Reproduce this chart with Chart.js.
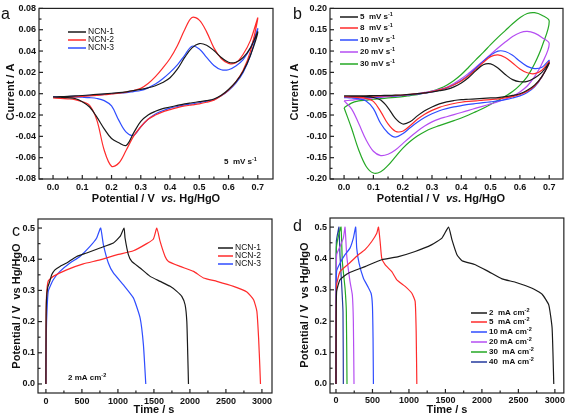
<!DOCTYPE html>
<html>
<head>
<meta charset="utf-8">
<script src="https://cdn.jsdelivr.net/npm/chart.js@4.4.1/dist/chart.umd.min.js"></script>
<style>
  body { margin: 0; background: #fff; width: 567px; height: 418px; position: relative; overflow: hidden; }
  canvas { position: absolute; }
</style>
</head>
<body>
<canvas id="cv-a" width="283" height="209" style="left:0;top:0"></canvas>
<canvas id="cv-b" width="284" height="209" style="left:283px;top:0"></canvas>
<canvas id="gcd-c" width="283" height="209" style="left:0;top:209px"></canvas>
<canvas id="gcd-d" width="284" height="209" style="left:283px;top:209px"></canvas>
<script>
// ---- data: cyclic voltammograms (potential grid shared by all CV curves) ----
const cvPotential = [0, 0.025, 0.05, 0.075, 0.1, 0.125, 0.15, 0.175, 0.2, 0.225, 0.25, 0.275, 0.3, 0.325, 0.35,
  0.375, 0.4, 0.425, 0.45, 0.475, 0.5, 0.525, 0.55, 0.575, 0.6, 0.625, 0.65, 0.675, 0.7];

// panel a, 5 mV/s; anodic = forward sweep, cathodic = return sweep (listed on the same grid)
const ncn1Anodic = [-0.003, -0.0028, -0.0025, -0.0021, -0.0017, -0.0012, -0.0007, -0.0002, 0.0004, 0.001, 0.0018, 0.0028, 0.004, 0.0055, 0.0075,
  0.0105, 0.015, 0.023, 0.034, 0.043, 0.047, 0.0455, 0.0405, 0.034, 0.0295, 0.0295, 0.034, 0.043, 0.058];
const ncn1Cathodic = [-0.003, -0.0033, -0.0037, -0.0045, -0.0075, -0.0125, -0.022, -0.033, -0.042, -0.046, -0.0485, -0.037, -0.026, -0.02, -0.0165,
  -0.014, -0.0125, -0.011, -0.0095, -0.0085, -0.0075, -0.0065, -0.005, -0.0015, 0.004, 0.011, 0.021, 0.036, 0.058];
const ncn2Anodic = [-0.004, -0.0038, -0.0035, -0.003, -0.0025, -0.002, -0.0015, -0.001, -0.0002, 0.0005, 0.0015, 0.003, 0.005, 0.0095, 0.016,
  0.024, 0.033, 0.045, 0.06, 0.0715, 0.069, 0.058, 0.043, 0.033, 0.0285, 0.029, 0.037, 0.05, 0.071];
const ncn2Cathodic = [-0.004, -0.0043, -0.0048, -0.0055, -0.0075, -0.011, -0.025, -0.053, -0.068, -0.065, -0.053, -0.04, -0.031, -0.024, -0.02,
  -0.017, -0.015, -0.013, -0.0115, -0.0105, -0.0095, -0.008, -0.006, -0.002, 0.0035, 0.011, 0.022, 0.04, 0.071];
const ncn3Anodic = [-0.003, -0.0029, -0.0027, -0.0024, -0.002, -0.0016, -0.0012, -0.0006, 0.0, 0.0005, 0.001, 0.002, 0.003, 0.0055, 0.009,
  0.014, 0.02, 0.027, 0.036, 0.0445, 0.042, 0.034, 0.0265, 0.0225, 0.0225, 0.026, 0.032, 0.043, 0.061];
const ncn3Cathodic = [-0.003, -0.003, -0.003, -0.003, -0.0033, -0.0037, -0.0045, -0.0065, -0.0115, -0.025, -0.036, -0.039, -0.031, -0.024, -0.019,
  -0.016, -0.0135, -0.012, -0.0105, -0.0095, -0.0085, -0.007, -0.0055, -0.002, 0.003, 0.01, 0.02, 0.036, 0.061];

// panel b, different scan rates
const mv5Anodic = [-0.005, -0.005, -0.005, -0.0048, -0.0045, -0.0042, -0.004, -0.0035, -0.003, -0.0018, 0.0, 0.002, 0.004, 0.007, 0.01,
  0.016, 0.025, 0.038, 0.054, 0.068, 0.07, 0.06, 0.045, 0.033, 0.028, 0.029, 0.037, 0.05, 0.072];
const mv5Cathodic = [-0.005, -0.0055, -0.006, -0.007, -0.009, -0.015, -0.033, -0.058, -0.071, -0.066, -0.052, -0.04, -0.031, -0.024, -0.019,
  -0.016, -0.014, -0.013, -0.012, -0.011, -0.01, -0.009, -0.007, -0.004, 0.0, 0.008, 0.02, 0.04, 0.072];
const mv8Anodic = [-0.007, -0.007, -0.007, -0.0065, -0.006, -0.0055, -0.005, -0.004, -0.003, -0.0015, 0.0, 0.002, 0.005, 0.009, 0.014,
  0.021, 0.03, 0.042, 0.057, 0.073, 0.087, 0.091, 0.085, 0.072, 0.058, 0.049, 0.047, 0.055, 0.075];
const mv8Cathodic = [-0.007, -0.008, -0.009, -0.011, -0.018, -0.042, -0.071, -0.088, -0.088, -0.075, -0.06, -0.048, -0.039, -0.032, -0.027,
  -0.023, -0.02, -0.018, -0.017, -0.015, -0.014, -0.012, -0.01, -0.007, -0.002, 0.006, 0.018, 0.04, 0.075];
const mv10Anodic = [-0.009, -0.009, -0.009, -0.0085, -0.008, -0.007, -0.006, -0.005, -0.004, -0.0025, -0.001, 0.001, 0.004, 0.008, 0.013,
  0.021, 0.031, 0.044, 0.06, 0.076, 0.09, 0.1, 0.099, 0.09, 0.076, 0.064, 0.059, 0.062, 0.078];
const mv10Cathodic = [-0.009, -0.01, -0.012, -0.017, -0.035, -0.07, -0.092, -0.102, -0.094, -0.08, -0.067, -0.056, -0.047, -0.04, -0.035,
  -0.031, -0.028, -0.025, -0.023, -0.021, -0.019, -0.017, -0.014, -0.01, -0.005, 0.003, 0.016, 0.04, 0.078];
const mv20Anodic = [-0.017, -0.015, -0.013, -0.0115, -0.01, -0.0085, -0.007, -0.0055, -0.004, -0.002, 0.0, 0.003, 0.006, 0.01, 0.015,
  0.024, 0.035, 0.048, 0.062, 0.077, 0.092, 0.107, 0.121, 0.134, 0.143, 0.146, 0.142, 0.132, 0.117];
const mv20Cathodic = [-0.017, -0.035, -0.07, -0.108, -0.135, -0.145, -0.142, -0.132, -0.117, -0.102, -0.088, -0.076, -0.066, -0.059, -0.054,
  -0.049, -0.044, -0.039, -0.034, -0.029, -0.024, -0.019, -0.013, -0.006, 0.004, 0.018, 0.04, 0.07, 0.117];
const mv30Anodic = [-0.033, -0.022, -0.017, -0.015, -0.013, -0.0115, -0.01, -0.0085, -0.007, -0.0045, -0.002, 0.002, 0.006, 0.012, 0.02,
  0.031, 0.045, 0.062, 0.08, 0.097, 0.115, 0.132, 0.148, 0.164, 0.178, 0.188, 0.19, 0.184, 0.17];
const mv30Cathodic = [-0.033, -0.08, -0.132, -0.17, -0.186, -0.183, -0.168, -0.148, -0.128, -0.112, -0.099, -0.089, -0.081, -0.075, -0.069,
  -0.063, -0.057, -0.05, -0.042, -0.034, -0.025, -0.016, -0.006, 0.005, 0.02, 0.04, 0.07, 0.11, 0.17];

// ---- data: galvanostatic charge/discharge ----
const ncn1Time = [0, 2, 8, 25, 55, 80, 125, 195, 288, 427, 566, 751, 937, 1030, 1085, 1099, 1145, 1192, 1308, 1447, 1586, 1725, 1818, 1887, 1933, 1957, 1970, 1980];
const ncn1Volt = [0, 0.2, 0.27, 0.31, 0.33, 0.35, 0.366, 0.377, 0.388, 0.409, 0.42, 0.436, 0.452, 0.473, 0.5, 0.468, 0.415, 0.393, 0.372, 0.345, 0.329, 0.313, 0.297, 0.281, 0.254, 0.2, 0.094, 0];
const ncn2Time = [0, 3, 9, 32, 102, 288, 519, 751, 983, 1215, 1400, 1493, 1540, 1586, 1655, 1702, 1864, 2050, 2189, 2374, 2606, 2791, 2884, 2930, 2954, 2972, 2980];
const ncn2Volt = [0, 0.22, 0.286, 0.33, 0.345, 0.366, 0.385, 0.398, 0.414, 0.427, 0.45, 0.465, 0.5, 0.457, 0.409, 0.393, 0.377, 0.361, 0.34, 0.329, 0.313, 0.295, 0.27, 0.233, 0.147, 0.05, 0];
const ncn3Time = [0, 3, 9, 32, 102, 195, 334, 473, 612, 705, 760, 798, 867, 937, 1076, 1215, 1308, 1354, 1387];
const ncn3Volt = [0, 0.12, 0.2, 0.297, 0.334, 0.361, 0.388, 0.409, 0.441, 0.468, 0.5, 0.447, 0.388, 0.356, 0.318, 0.276, 0.212, 0.126, 0];

const ma2Time = [0, 2, 9, 55, 169, 398, 627, 856, 1085, 1314, 1452, 1543, 1589, 1658, 1727, 1910, 2093, 2276, 2459, 2688, 2825, 2916, 2962, 2985];
const ma2Volt = [0, 0.2, 0.295, 0.332, 0.353, 0.374, 0.396, 0.406, 0.422, 0.444, 0.465, 0.5, 0.46, 0.412, 0.393, 0.38, 0.358, 0.335, 0.324, 0.305, 0.286, 0.252, 0.178, 0];
const ma5Time = [0, 2, 9, 55, 169, 307, 398, 490, 559, 582, 605, 627, 673, 765, 834, 948, 1040, 1085, 1099, 1108];
const ma5Volt = [0, 0.22, 0.316, 0.358, 0.382, 0.412, 0.428, 0.454, 0.48, 0.5, 0.454, 0.401, 0.38, 0.358, 0.332, 0.311, 0.289, 0.263, 0.167, 0];
const ma10Time = [0, 2, 9, 55, 124, 192, 238, 270, 284, 316, 376, 435, 481, 499, 508, 513];
const ma10Volt = [0, 0.25, 0.36, 0.385, 0.412, 0.433, 0.465, 0.5, 0.433, 0.385, 0.337, 0.311, 0.289, 0.252, 0.146, 0];
const ma20Time = [0, 2, 9, 55, 101, 124, 147, 192, 224, 238, 247];
const ma20Volt = [0, 0.3, 0.412, 0.438, 0.465, 0.5, 0.41, 0.327, 0.284, 0.2, 0];
const ma30Time = [0, 2, 5, 32, 69, 87, 124, 142, 151];
const ma30Volt = [0, 0.3, 0.433, 0.47, 0.5, 0.39, 0.305, 0.23, 0];
const ma40Time = [0, 2, 5, 23, 41, 55, 78, 96, 101];
const ma40Volt = [0, 0.3, 0.454, 0.48, 0.5, 0.41, 0.316, 0.23, 0];

// ---- tick labels ----
const cvPotTicks = [0, 0.1, 0.2, 0.3, 0.4, 0.5, 0.6, 0.7];
const cvCurTicksA = [-0.08, -0.06, -0.04, -0.02, 0, 0.02, 0.04, 0.06, 0.08];
const cvCurTicksB = [-0.2, -0.15, -0.1, -0.05, 0, 0.05, 0.1, 0.15, 0.2];
const timeTicks = [0, 500, 1000, 1500, 2000, 2500, 3000];
const voltTicks = [0, 0.1, 0.2, 0.3, 0.4, 0.5];

const C = { black: '#1a1a1a', red: '#ff2b2b', blue: '#2f4dff', purple: '#b54ef2', green: '#25a825', navy: '#243a9e' };
const FAM = '"Liberation Sans", Arial, sans-serif';
const bold = n => `bold ${n}px ${FAM}`;
const plain = n => `${n}px ${FAM}`;

// forward sweep then return sweep as one loop
function loop(pot, up, down) {
  const pts = pot.map((v, i) => ({ x: v, y: up[i] }));
  for (let i = pot.length - 2; i >= 0; i--) pts.push({ x: pot[i], y: down[i] });
  return pts;
}
const pairs = (xs, ys) => xs.map((v, i) => ({ x: v, y: ys[i] }));

function rich(ctx, parts, x, y, rot, align) {
  let w = 0;
  parts.forEach(p => { ctx.font = p[1]; w += ctx.measureText(p[0]).width; });
  ctx.save();
  ctx.translate(x, y);
  if (rot) ctx.rotate(rot);
  ctx.textBaseline = 'middle';
  ctx.textAlign = 'left';
  let cx = align === 'left' ? 0 : -w / 2;
  parts.forEach(p => {
    ctx.font = p[1];
    ctx.fillText(p[0], cx, p[2] || 0);
    cx += ctx.measureText(p[0]).width;
  });
  ctx.restore();
}

// frame, inward ticks, titles and legend
const decor = {
  id: 'decor',
  afterDraw(chart, args, o) {
    const { ctx, chartArea: a, scales } = chart;
    ctx.save();
    ctx.strokeStyle = '#222';
    ctx.lineWidth = 1.2;
    ctx.strokeRect(a.left, a.top, a.right - a.left, a.bottom - a.top);
    ['x', 'y'].forEach(id => {
      const s = scales[id];
      const vals = s.ticks.map(t => t.value);
      const minors = vals.slice(1).map((v, i) => (v + vals[i]) / 2);
      const mark = (v, len) => {
        const p = s.getPixelForValue(v);
        ctx.beginPath();
        if (id === 'x') { ctx.moveTo(p, a.bottom); ctx.lineTo(p, a.bottom - len); }
        else { ctx.moveTo(a.left, p); ctx.lineTo(a.left + len, p); }
        ctx.stroke();
      };
      vals.forEach(v => mark(v, 4));
      minors.forEach(v => mark(v, 2.5));
    });
    ctx.fillStyle = '#111';
    (o.texts || []).forEach(t => rich(ctx, t.parts, t.x, t.y, t.rot, t.align));
    const lg = o.legend;
    if (lg) {
      lg.items.forEach((it, i) => {
        const y = lg.rows[i];
        ctx.strokeStyle = it.color;
        ctx.lineWidth = 1.5;
        ctx.beginPath(); ctx.moveTo(lg.x1, y); ctx.lineTo(lg.x2, y); ctx.stroke();
        ctx.fillStyle = '#111';
        rich(ctx, it.parts, lg.x2 + 2, y, 0, 'left');
      });
    }
    ctx.restore();
  }
};

function axis(s, id) {
  return {
    type: 'linear', min: s.min, max: s.max,
    grid: { display: false, drawTicks: false },
    border: { display: false },
    afterBuildTicks: sc => { sc.ticks = s.ticks.map(v => ({ value: v })); },
    afterFit: sc => { if (id === 'x') sc.height = s.size; else sc.width = s.size; },
    ticks: {
      autoSkip: false, maxRotation: 0, padding: s.pad, color: '#111',
      font: { family: FAM, size: 9, weight: 'bold' },
      callback: v => s.fmt(v)
    }
  };
}

function makeChart(id, c) {
  new Chart(document.getElementById(id), {
    type: 'line',
    data: { datasets: c.datasets },
    options: {
      responsive: false,
      animation: false,
      layout: { padding: c.padding },
      elements: { point: { radius: 0 }, line: { borderWidth: 1.2 } },
      plugins: { legend: { display: false }, tooltip: { enabled: false }, decor: c.decor },
      scales: { x: axis(c.x, 'x'), y: axis(c.y, 'y') }
    },
    plugins: [decor]
  });
}

const cvLine = (data, color) => ({ data, borderColor: color, tension: 0.35, fill: false });
const gcdLine = (data, color) => ({ data, borderColor: color, tension: 0.15, fill: false });
const potTitle = [['Potential / V  ', bold(11)], ['vs.', 'italic ' + bold(11)], [' Hg/HgO', bold(11)]];
const unit = (txt, exp) => [[txt, bold(8)], [exp, bold(5.5), -3]];

makeChart('cv-a', {
  padding: { top: 5, right: 10, left: 0, bottom: 0 },
  x: { min: -0.048, max: 0.752, ticks: cvPotTicks, fmt: v => v.toFixed(1), size: 30, pad: 3 },
  y: { min: -0.08, max: 0.08, ticks: cvCurTicksA, fmt: v => v.toFixed(2), size: 39, pad: 3 },
  datasets: [
    cvLine(loop(cvPotential, ncn1Anodic, ncn1Cathodic), C.black),
    cvLine(loop(cvPotential, ncn2Anodic, ncn2Cathodic), C.red),
    cvLine(loop(cvPotential, ncn3Anodic, ncn3Cathodic), C.blue)
  ],
  decor: {
    texts: [
      { parts: [['a', plain(16)]], x: 1, y: 15, align: 'left' },
      { parts: [['Current / A', bold(11)]], x: 11, y: 92, rot: -Math.PI / 2 },
      { parts: potTitle, x: 156, y: 199 },
      { parts: unit('5  mV s', '-1'), x: 224, y: 162, align: 'left' }
    ],
    legend: { x1: 68, x2: 86, rows: [32, 40, 48], items: [
      { color: C.black, parts: [['NCN-1', plain(8.5)]] },
      { color: C.red, parts: [['NCN-2', plain(8.5)]] },
      { color: C.blue, parts: [['NCN-3', plain(8.5)]] }
    ] }
  }
});

makeChart('cv-b', {
  padding: { top: 5, right: 4, left: 0, bottom: 0 },
  x: { min: -0.048, max: 0.747, ticks: cvPotTicks, fmt: v => v.toFixed(1), size: 30, pad: 3 },
  y: { min: -0.2, max: 0.2, ticks: cvCurTicksB, fmt: v => v.toFixed(2), size: 47, pad: 3 },
  datasets: [
    cvLine(loop(cvPotential, mv5Anodic, mv5Cathodic), C.black),
    cvLine(loop(cvPotential, mv8Anodic, mv8Cathodic), C.red),
    cvLine(loop(cvPotential, mv10Anodic, mv10Cathodic), C.blue),
    cvLine(loop(cvPotential, mv20Anodic, mv20Cathodic), C.purple),
    cvLine(loop(cvPotential, mv30Anodic, mv30Cathodic), C.green)
  ],
  decor: {
    texts: [
      { parts: [['b', plain(16)]], x: 10, y: 15, align: 'left' },
      { parts: [['Current / A', bold(11)]], x: 12, y: 92, rot: -Math.PI / 2 },
      { parts: potTitle, x: 158, y: 199 }
    ],
    legend: { x1: 57, x2: 75, rows: [17, 28, 40, 52, 64], items: [
      { color: C.black, parts: unit('5  mV s', '-1') },
      { color: C.red, parts: unit('8  mV s', '-1') },
      { color: C.blue, parts: unit('10 mV s', '-1') },
      { color: C.purple, parts: unit('20 mV s', '-1') },
      { color: C.green, parts: unit('30 mV s', '-1') }
    ] }
  }
});

const voltTitle = [['Potential / V  vs Hg/HgO', bold(11)]];

makeChart('gcd-c', {
  padding: { top: 10, right: 11, left: 0, bottom: 0 },
  x: { min: -110, max: 3140, ticks: timeTicks, fmt: v => String(v), size: 25, pad: 3 },
  y: { min: -0.029, max: 0.529, ticks: voltTicks, fmt: v => v.toFixed(1), size: 38, pad: 3 },
  datasets: [
    gcdLine(pairs(ncn1Time, ncn1Volt), C.black),
    gcdLine(pairs(ncn2Time, ncn2Volt), C.red),
    gcdLine(pairs(ncn3Time, ncn3Volt), C.blue)
  ],
  decor: {
    texts: [
      { parts: [['c', plain(16)]], x: 12, y: 23, align: 'left' },
      { parts: voltTitle, x: 17, y: 97, rot: -Math.PI / 2 },
      { parts: [['Time / s', bold(11)]], x: 154, y: 201 },
      { parts: unit('2 mA cm', '-2'), x: 68, y: 169, align: 'left' }
    ],
    legend: { x1: 218, x2: 233, rows: [39, 47, 55], items: [
      { color: C.black, parts: [['NCN-1', plain(8.5)]] },
      { color: C.red, parts: [['NCN-2', plain(8.5)]] },
      { color: C.blue, parts: [['NCN-3', plain(8.5)]] }
    ] }
  }
});

makeChart('gcd-d', {
  padding: { top: 9, right: 3, left: 0, bottom: 0 },
  x: { min: -82, max: 3123, ticks: timeTicks, fmt: v => String(v), size: 25, pad: 2 },
  y: { min: -0.029, max: 0.529, ticks: voltTicks, fmt: v => v.toFixed(1), size: 47, pad: 3 },
  datasets: [
    gcdLine(pairs(ma2Time, ma2Volt), C.black),
    gcdLine(pairs(ma5Time, ma5Volt), C.red),
    gcdLine(pairs(ma10Time, ma10Volt), C.blue),
    gcdLine(pairs(ma20Time, ma20Volt), C.purple),
    gcdLine(pairs(ma30Time, ma30Volt), C.green),
    gcdLine(pairs(ma40Time, ma40Volt), C.navy)
  ],
  decor: {
    texts: [
      { parts: [['d', plain(16)]], x: 10, y: 18, align: 'left' },
      { parts: voltTitle, x: 22, y: 96, rot: -Math.PI / 2 },
      { parts: [['Time / s', bold(11)]], x: 164, y: 201 }
    ],
    legend: { x1: 188, x2: 204, rows: [104, 113, 123, 133, 143, 153], items: [
      { color: C.black, parts: unit('2  mA cm', '-2') },
      { color: C.red, parts: unit('5  mA cm', '-2') },
      { color: C.blue, parts: unit('10 mA cm', '-2') },
      { color: C.purple, parts: unit('20 mA cm', '-2') },
      { color: C.green, parts: unit('30  mA cm', '-2') },
      { color: C.navy, parts: unit('40  mA cm', '-2') }
    ] }
  }
});
</script>
</body>
</html>
